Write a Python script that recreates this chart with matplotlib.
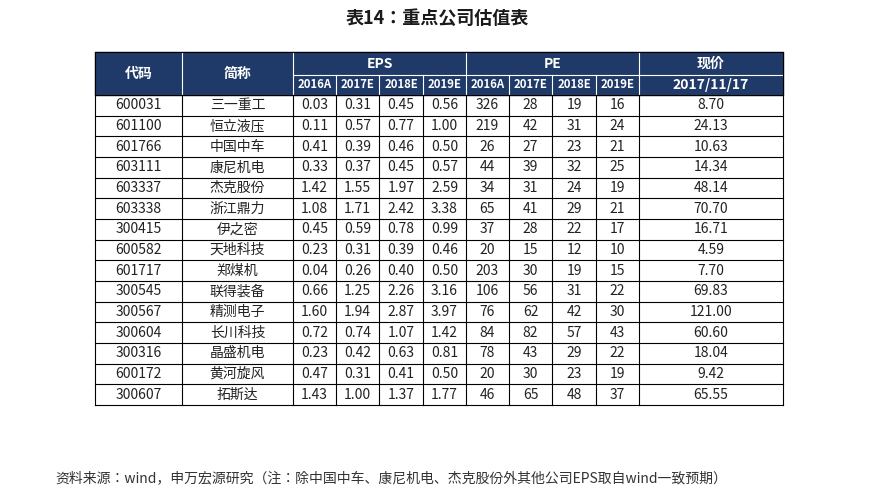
import matplotlib
matplotlib.use("Agg")
import matplotlib.pyplot as plt
from matplotlib.patches import Rectangle
from matplotlib import font_manager as fm

names_avail = {f.name for f in fm.fontManager.ttflist}
cjk = [n for n in ["Noto Sans CJK SC","Noto Sans CJK JP","Noto Sans CJK TC","Noto Sans CJK KR"] if n in names_avail]
plt.rcParams["font.family"] = cjk + ["DejaVu Sans"]

codes = ["600031","601100","601766","603111","603337","603338","300415","600582",
         "601717","300545","300567","300604","300316","600172","300607"]
names = ["三一重工","恒立液压","中国中车","康尼机电","杰克股份","浙江鼎力","伊之密","天地科技",
         "郑煤机","联得装备","精测电子","长川科技","晶盛机电","黄河旋风","拓斯达"]
years = ["2016A","2017E","2018E","2019E"]
eps = [[0.03,0.31,0.45,0.56],[0.11,0.57,0.77,1.00],[0.41,0.39,0.46,0.50],[0.33,0.37,0.45,0.57],
       [1.42,1.55,1.97,2.59],[1.08,1.71,2.42,3.38],[0.45,0.59,0.78,0.99],[0.23,0.31,0.39,0.46],
       [0.04,0.26,0.40,0.50],[0.66,1.25,2.26,3.16],[1.60,1.94,2.87,3.97],[0.72,0.74,1.07,1.42],
       [0.23,0.42,0.63,0.81],[0.47,0.31,0.41,0.50],[1.43,1.00,1.37,1.77]]
pe = [[326,28,19,16],[219,42,31,24],[26,27,23,21],[44,39,32,25],[34,31,24,19],[65,41,29,21],
      [37,28,22,17],[20,15,12,10],[203,30,19,15],[106,56,31,22],[76,62,42,30],[84,82,57,43],
      [78,43,29,22],[20,30,23,19],[46,65,48,37]]
price = [8.70,24.13,10.63,14.34,48.14,70.70,16.71,4.59,7.70,69.83,121.00,60.60,18.04,9.42,65.55]

fig = plt.figure(figsize=(8.75,5.0), dpi=100)
ax = fig.add_axes([0,0,1,1])
ax.set_xlim(0,875); ax.set_ylim(500,0); ax.axis("off")

navy = "#1F3A68"
xs = [95,182,293,336,379,423,466,509,552,596,639,783]
y0, ym, y1, yb = 52, 75, 95, 405
rh = (yb-y1)/len(codes)

ax.text(437, 18, "表14：重点公司估值表", ha="center", va="center", fontsize=13, fontweight="bold", color="#1a1a1a")
ax.add_patch(Rectangle((xs[0],y0), xs[-1]-xs[0], y1-y0, color=navy, zorder=0))
hk = dict(color="white", fontsize=10, fontweight="bold", ha="center", va="center")
ax.text((xs[0]+xs[1])/2, (y0+y1)/2, "代码", **hk)
ax.text((xs[1]+xs[2])/2, (y0+y1)/2, "简称", **hk)
ax.text((xs[2]+xs[6])/2, (y0+ym)/2, "EPS", **hk)
ax.text((xs[6]+xs[10])/2, (y0+ym)/2, "PE", **hk)
ax.text((xs[10]+xs[11])/2, (y0+ym)/2, "现价", **hk)
ax.text((xs[10]+xs[11])/2, (ym+y1)/2, "2017/11/17", **hk)
for i, yr in enumerate(years*2):
    ax.text((xs[2+i]+xs[3+i])/2, (ym+y1)/2, yr, color="white", fontsize=8.2,
            fontweight="bold", ha="center", va="center")
lw = dict(color="white", lw=0.8)
ax.plot([xs[2],xs[11]],[ym,ym], **lw)
for x in [xs[1],xs[2],xs[6],xs[10]]:
    ax.plot([x,x],[y0,y1], **lw)
for x in xs[3:10]:
    if x != xs[6]:
        ax.plot([x,x],[ym,y1], **lw)

k = dict(color="black", lw=0.8)
for i in range(len(codes)+1):
    y = y1 + i*rh
    ax.plot([xs[0],xs[-1]],[y,y], **k)
for x in xs:
    ax.plot([x,x],[y1,yb], **k)
ax.plot([xs[0],xs[-1]],[y0,y0], **k)
ax.plot([xs[0],xs[0]],[y0,y1], **k); ax.plot([xs[-1],xs[-1]],[y0,y1], **k)

tk = dict(fontsize=10, ha="center", va="center", color="#222222")
for r in range(len(codes)):
    yc = y1 + (r+0.5)*rh
    ax.text((xs[0]+xs[1])/2, yc, codes[r], **tk)
    ax.text((xs[1]+xs[2])/2, yc, names[r], **tk)
    for j in range(4):
        ax.text((xs[2+j]+xs[3+j])/2, yc, f"{eps[r][j]:.2f}", **tk)
        ax.text((xs[6+j]+xs[7+j])/2, yc, f"{pe[r][j]}", **tk)
    ax.text((xs[10]+xs[11])/2, yc, f"{price[r]:.2f}", **tk)

ax.text(55, 478, "资料来源：wind，申万宏源研究（注：除中国中车、康尼机电、杰克股份外其他公司EPS取自wind一致预期）",
        fontsize=10, ha="left", va="center", color="#333333")
fig.savefig("out.png", dpi=100)
